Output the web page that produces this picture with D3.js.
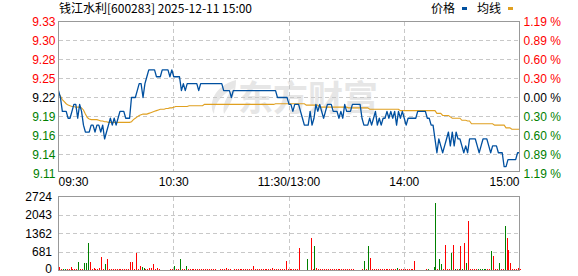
<!DOCTYPE html>
<html>
<head>
<meta charset="utf-8">
<script src="https://cdn.jsdelivr.net/npm/d3@7"></script>
<style>
body { margin: 0; background: #fff; }
svg { display: block; font-family: "Liberation Sans", Arial, sans-serif; }
</style>
</head>
<body>
<svg id="chart" width="578" height="276"></svg>
<script>
// chart data
const title = "钱江水利[600283] 2025-12-11 15:00";
const legendNames = ["价格", "均线"];
const priceMax = 9.33;
const priceMin = 9.11;
const priceTicks = ["9.33", "9.30", "9.28", "9.25", "9.22", "9.19", "9.16", "9.14", "9.11"];
const pctTicks = ["1.19 %", "0.89 %", "0.60 %", "0.30 %", "0.00 %", "0.30 %", "0.60 %", "0.89 %", "1.19 %"];
const timeLabels = ["09:30", "10:30", "11:30/13:00", "14:00", "15:00"];
const timeMinutes = [0, 60, 120, 180, 240];
const volMax = 2724;
const volTicks = ["2724", "2043", "1362", "681", "0"];

// one price per minute, 09:30 .. 11:30 then 13:01 .. 15:00
const price = [
    9.23, 9.22, 9.20, 9.20, 9.20, 9.19, 9.19, 9.20, 9.21, 9.21, 9.19, 9.21, 9.20, 9.18, 9.17, 9.17, 9.17, 9.18, 9.18, 9.17,
    9.18, 9.18, 9.17, 9.18, 9.16, 9.17, 9.18, 9.19, 9.18, 9.19, 9.18, 9.19, 9.20, 9.20, 9.20, 9.19, 9.19, 9.19, 9.22, 9.22,
    9.22, 9.23, 9.24, 9.24, 9.22, 9.24, 9.25, 9.26, 9.26, 9.26, 9.26, 9.25, 9.25, 9.25, 9.26, 9.26, 9.26, 9.26, 9.25, 9.26,
    9.25, 9.25, 9.25, 9.25, 9.23, 9.24, 9.23, 9.24, 9.24, 9.24, 9.24, 9.24, 9.24, 9.23, 9.24, 9.24, 9.24, 9.24, 9.24, 9.24,
    9.24, 9.24, 9.24, 9.24, 9.24, 9.24, 9.23, 9.23, 9.23, 9.23, 9.22, 9.23, 9.23, 9.23, 9.23, 9.23, 9.23, 9.23, 9.23, 9.23,
    9.23, 9.23, 9.23, 9.23, 9.23, 9.23, 9.23, 9.23, 9.23, 9.23, 9.23, 9.23, 9.23, 9.23, 9.22, 9.22, 9.22, 9.22, 9.22, 9.22,
    9.21, 9.21, 9.20, 9.21, 9.21, 9.21, 9.20, 9.19, 9.18, 9.18, 9.18, 9.20, 9.18, 9.19, 9.21, 9.20, 9.21, 9.20, 9.19, 9.20,
    9.21, 9.21, 9.21, 9.20, 9.20, 9.20, 9.19, 9.20, 9.19, 9.21, 9.20, 9.20, 9.20, 9.21, 9.21, 9.21, 9.21, 9.21, 9.19, 9.18,
    9.18, 9.18, 9.19, 9.18, 9.19, 9.20, 9.18, 9.19, 9.18, 9.19, 9.19, 9.20, 9.19, 9.20, 9.19, 9.20, 9.18, 9.20, 9.19, 9.20,
    9.19, 9.18, 9.19, 9.19, 9.19, 9.19, 9.19, 9.20, 9.20, 9.20, 9.20, 9.20, 9.19, 9.19, 9.18, 9.18, 9.16, 9.14, 9.16, 9.15,
    9.14, 9.15, 9.16, 9.17, 9.15, 9.17, 9.15, 9.17, 9.16, 9.16, 9.15, 9.14, 9.15, 9.14, 9.16, 9.16, 9.16, 9.16, 9.15, 9.14,
    9.15, 9.16, 9.16, 9.16, 9.15, 9.14, 9.15, 9.15, 9.15, 9.14, 9.14, 9.14, 9.12, 9.12, 9.13, 9.13, 9.13, 9.13, 9.13, 9.14,
    9.14
];

const avgPrice = [
    9.226, 9.222, 9.217, 9.214, 9.211, 9.209, 9.208, 9.207, 9.207, 9.206, 9.206, 9.206, 9.205, 9.202, 9.196, 9.191, 9.189, 9.188, 9.188, 9.188,
    9.188, 9.187, 9.186, 9.186, 9.185, 9.185, 9.184, 9.184, 9.184, 9.184, 9.184, 9.184, 9.184, 9.184, 9.184, 9.184, 9.184, 9.184, 9.185, 9.188,
    9.190, 9.192, 9.194, 9.195, 9.196, 9.196, 9.196, 9.197, 9.198, 9.199, 9.200, 9.201, 9.202, 9.203, 9.203, 9.203, 9.204, 9.204, 9.205, 9.205,
    9.206, 9.207, 9.207, 9.207, 9.207, 9.207, 9.207, 9.207, 9.208, 9.208, 9.208, 9.208, 9.208, 9.208, 9.208, 9.208, 9.210, 9.210, 9.210, 9.210,
    9.210, 9.210, 9.210, 9.210, 9.210, 9.210, 9.210, 9.210, 9.210, 9.210, 9.210, 9.210, 9.210, 9.210, 9.210, 9.210, 9.210, 9.210, 9.210, 9.210,
    9.210, 9.210, 9.210, 9.210, 9.210, 9.210, 9.210, 9.210, 9.210, 9.210, 9.210, 9.210, 9.210, 9.211, 9.211, 9.211, 9.211, 9.211, 9.211, 9.211,
    9.211, 9.211, 9.211, 9.211, 9.211, 9.211, 9.211, 9.211, 9.211, 9.209, 9.209, 9.209, 9.209, 9.209, 9.209, 9.209, 9.206, 9.206, 9.206, 9.206,
    9.206, 9.206, 9.206, 9.206, 9.206, 9.206, 9.206, 9.206, 9.206, 9.206, 9.206, 9.205, 9.205, 9.205, 9.205, 9.205, 9.205, 9.205, 9.205, 9.205,
    9.205, 9.205, 9.203, 9.203, 9.203, 9.203, 9.203, 9.203, 9.203, 9.203, 9.203, 9.203, 9.203, 9.203, 9.203, 9.203, 9.203, 9.203, 9.201, 9.201,
    9.201, 9.201, 9.201, 9.201, 9.201, 9.201, 9.201, 9.201, 9.201, 9.201, 9.201, 9.201, 9.201, 9.201, 9.201, 9.201, 9.201, 9.197, 9.197, 9.197,
    9.194, 9.194, 9.194, 9.194, 9.192, 9.190, 9.190, 9.190, 9.190, 9.190, 9.187, 9.187, 9.187, 9.186, 9.186, 9.182, 9.182, 9.182, 9.182, 9.182,
    9.182, 9.182, 9.182, 9.182, 9.182, 9.182, 9.182, 9.180, 9.180, 9.180, 9.180, 9.180, 9.180, 9.176, 9.176, 9.176, 9.174, 9.174, 9.174, 9.174,
    9.174
];

// volume per minute (lots)
const volume = [
    147, 30, 30, 30, 30, 30, 147, 30, 30, 30, 331, 30, 30, 258, 258, 1005, 331, 30, 98, 30,
    30, 98, 515, 30, 221, 405, 30, 30, 30, 30, 30, 30, 30, 30, 30, 30, 30, 331, 307, 30,
    626, 30, 184, 140, 110, 30, 30, 98, 98, 221, 30, 98, 50, 0, 0, 0, 0, 0, 30, 30,
    184, 30, 30, 405, 30, 30, 184, 30, 30, 30, 30, 30, 30, 30, 30, 30, 30, 30, 30, 30,
    30, 30, 0, 0, 30, 30, 30, 98, 30, 30, 0, 30, 30, 30, 30, 30, 30, 30, 30, 30,
    30, 184, 30, 30, 30, 30, 30, 30, 30, 30, 30, 98, 30, 30, 30, 30, 30, 30, 368, 30,
    30, 30, 30, 30, 30, 810, 0, 0, 0, 405, 0, 1178, 30, 920, 98, 30, 30, 30, 30, 30,
    30, 30, 30, 30, 30, 30, 30, 30, 30, 30, 30, 30, 30, 30, 0, 0, 0, 0, 30, 368,
    60, 920, 442, 30, 30, 30, 30, 30, 30, 30, 30, 37, 30, 30, 30, 30, 98, 30, 30, 30,
    30, 30, 30, 30, 30, 368, 0, 0, 0, 0, 0, 30, 37, 0, 0, 147, 2503, 30, 405, 221,
    30, 957, 30, 30, 626, 957, 37, 30, 37, 920, 37, 994, 258, 1804, 30, 30, 30, 30, 37, 30,
    30, 30, 30, 30, 30, 712, 552, 30, 30, 258, 30, 30, 1656, 1178, 773, 258, 30, 30, 30, 98,
    30
];

// minutes whose volume bar is green (selling)
const downBars = [2, 3, 10, 13, 14, 15, 24, 43, 44, 60, 63, 66, 129, 133, 159, 161, 176, 192, 195, 196,
    198, 199, 204, 206, 208, 210, 212, 218, 219, 220, 221, 222, 225, 229, 232];

const RED = "#ff0000", GREEN = "#008000", BLACK = "#000000";
const BLUE = "#0050a0", ORANGE = "#e0a020";

const svg = d3.select("#chart");

// plot boxes
const left = 58.5, right = 519.5;
const pTop = 21.5, pBottom = 171.5;
const vTop = 196.5, vBottom = 270.5;

const x = d3.scaleLinear().domain([0, 240]).range([left, right]);
// reference spaces the price grid by 19px from the top
const y = d3.scaleLinear().domain([priceMin, priceMax]).range([pTop + 8 * 19, pTop]);
const yv = d3.scaleLinear().domain([0, volMax]).range([vBottom, vTop]);

const priceLevels = priceTicks.map((t, k) => priceMax - k * (priceMax - priceMin) / 8);
const volLevels = volTicks.map((t, k) => volMax - k * volMax / 4);

function labelColor(k) {
    if (k < 4) return RED;
    if (k > 4) return GREEN;
    return BLACK;
}

function crisp(v) {
    return Math.floor(v) + 0.5;
}

// watermark
const wm = svg.append("g").attr("fill", "#e6e6e6");
wm.append("path")
    .attr("d", "M236,80 C214,86 208,104 214,114 C214,104 222,94 234,88 C226,96 222,106 224,114 C232,102 236,92 236,80 Z");
wm.append("text")
    .attr("x", 238).attr("y", 111)
    .style("font-family", "'Noto Sans CJK SC'")
    .style("font-weight", "bold")
    .style("font-size", "35px")
    .text("东方财富");

// grid lines
const grid = svg.append("g")
    .attr("stroke", "#c8c8c8")
    .attr("stroke-width", 1)
    .attr("stroke-dasharray", "4,3")
    .attr("shape-rendering", "crispEdges");

grid.selectAll(".hp").data(priceLevels.slice(1, 8)).enter().append("line")
    .attr("x1", left).attr("x2", right)
    .attr("y1", d => crisp(y(d))).attr("y2", d => crisp(y(d)));

grid.selectAll(".hv").data(volLevels.slice(1, 4)).enter().append("line")
    .attr("x1", left).attr("x2", right)
    .attr("y1", d => crisp(yv(d))).attr("y2", d => crisp(yv(d)));

grid.selectAll(".vp").data(timeMinutes.slice(1, 4)).enter().append("line")
    .attr("x1", d => crisp(x(d))).attr("x2", d => crisp(x(d)))
    .attr("y1", pTop).attr("y2", pBottom);

grid.selectAll(".vv").data(timeMinutes.slice(1, 4)).enter().append("line")
    .attr("x1", d => crisp(x(d))).attr("x2", d => crisp(x(d)))
    .attr("y1", vTop).attr("y2", vBottom);

// volume bars
const downSet = new Set(downBars);
const bars = volume.map((v, i) => ({ i: i, v: v })).filter(d => d.v > 0);

svg.append("g")
    .attr("shape-rendering", "crispEdges")
    .selectAll("rect")
    .data(bars)
    .enter()
    .append("rect")
    .attr("x", d => Math.floor(x(d.i)) + 1)
    .attr("width", 1)
    .attr("y", d => Math.min(Math.round(yv(d.v)), 269))
    .attr("height", d => 270 - Math.min(Math.round(yv(d.v)), 269))
    .attr("fill", d => downSet.has(d.i) ? GREEN : RED);

// average and price lines
const line = d3.line().x((d, i) => x(i)).y(d => y(d));

svg.append("path")
    .datum(avgPrice)
    .attr("fill", "none")
    .attr("stroke", ORANGE)
    .attr("stroke-width", 1.1)
    .attr("d", line);

svg.append("path")
    .datum(price)
    .attr("fill", "none")
    .attr("stroke", BLUE)
    .attr("stroke-width", 1.3)
    .attr("stroke-linejoin", "round")
    .attr("d", line);

// frames
const frame = svg.append("g")
    .attr("fill", "none")
    .attr("stroke", "#999")
    .attr("shape-rendering", "crispEdges");
frame.append("rect").attr("x", left).attr("y", pTop).attr("width", right - left).attr("height", pBottom - pTop);
frame.append("rect").attr("x", left).attr("y", vTop).attr("width", right - left).attr("height", vBottom - vTop);

// price axis labels
svg.append("g").selectAll("text")
    .data(priceTicks)
    .enter()
    .append("text")
    .attr("x", 55.5)
    .attr("y", (d, k) => y(priceLevels[k]))
    .attr("dy", "0.36em")
    .attr("text-anchor", "end")
    .style("font-size", "12px")
    .attr("fill", (d, k) => labelColor(k))
    .text(d => d);

svg.append("g").selectAll("text")
    .data(pctTicks)
    .enter()
    .append("text")
    .attr("x", 523.5)
    .attr("y", (d, k) => y(priceLevels[k]))
    .attr("dy", "0.36em")
    .style("font-size", "12px")
    .attr("fill", (d, k) => labelColor(k))
    .text(d => d);

// volume axis labels, the bottom one nudged up to stay inside the window
svg.append("g").selectAll("text")
    .data(volTicks)
    .enter()
    .append("text")
    .attr("x", 52)
    .attr("y", (d, k) => Math.min(yv(volLevels[k]), 268.5))
    .attr("dy", "0.36em")
    .attr("text-anchor", "end")
    .style("font-size", "12px")
    .attr("fill", BLACK)
    .text(d => d);

// time labels
const anchors = ["start", "middle", "middle", "middle", "end"];
svg.append("g").selectAll("text")
    .data(timeLabels)
    .enter()
    .append("text")
    .attr("x", (d, k) => x(timeMinutes[k]))
    .attr("y", 186)
    .attr("text-anchor", (d, k) => anchors[k])
    .style("font-size", "12px")
    .attr("fill", BLACK)
    .text(d => d);

// title and legend
svg.append("text")
    .attr("x", 59).attr("y", 12.5)
    .style("font-family", "'Noto Sans CJK SC'")
    .style("font-size", "12px")
    .attr("fill", BLACK)
    .text(title);

const legend = svg.append("g").style("font-family", "'Noto Sans CJK SC'").style("font-size", "12px");
const legendX = [431, 477];
const legendColors = [BLUE, ORANGE];
legendNames.forEach((name, k) => {
    legend.append("text").attr("x", legendX[k]).attr("y", 12.5).attr("fill", BLACK).text(name);
    legend.append("rect").attr("x", legendX[k] + 31).attr("y", 7).attr("width", 5).attr("height", 3).attr("fill", legendColors[k]);
});
</script>
</body>
</html>
